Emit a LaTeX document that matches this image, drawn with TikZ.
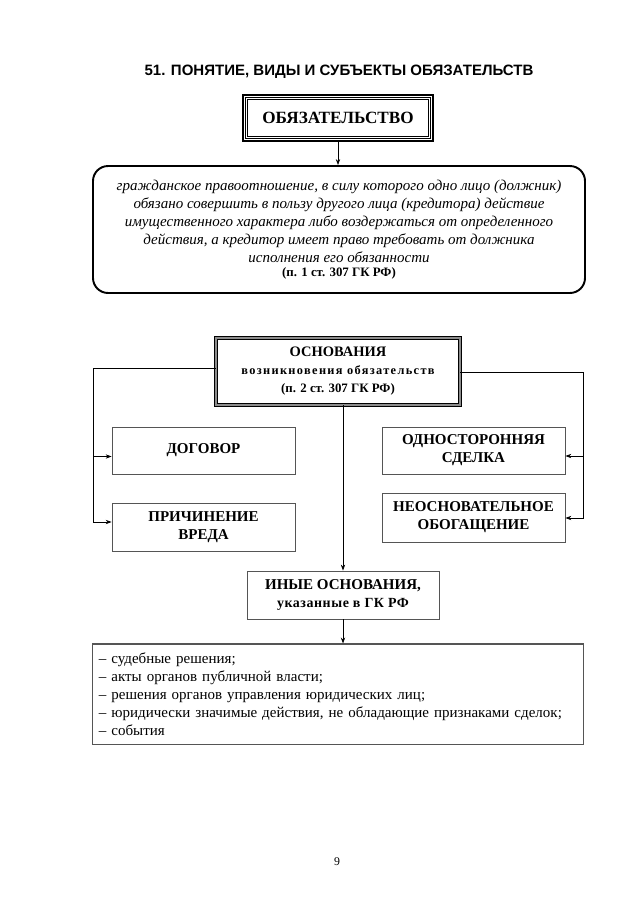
\documentclass[tikz,border=0pt]{standalone}
\usepackage{fontspec}
\setmainfont{Liberation Serif}
\newfontfamily\titlefont{Liberation Sans}
\usetikzlibrary{
    positioning,
    calc,
    arrows.meta
}
\definecolor{CinzaLinha}{HTML}{555555}
\definecolor{CinzaMoldura}{HTML}{8C8C8C}
\tikzset{
    caixa/.style={
        draw=CinzaLinha,
        line width=0.8pt,
        align=center,
        inner sep=2pt,
        font=\fontsize{14}{16.8}\selectfont\bfseries
    },
    seta/.style={
        draw=black,
        line width=0.6pt,
        -{Stealth[length=5.5pt,width=4pt]}
    },
    linha/.style={
        draw=black,
        line width=0.6pt
    }
}

\begin{document}
\begin{tikzpicture}[x=0.9325pt,y=-0.9325pt]
    \useasboundingbox (0,0) rectangle (638,903);
    \node (titulo) at (339,72) {\titlefont\bfseries\fontsize{14}{16}\selectfont
        51. ПОНЯТИЕ, ВИДЫ И СУБЪЕКТЫ ОБЯЗАТЕЛЬСТВ};
    \node[
        draw=black,
        line width=1.6pt,
        minimum width=177.2pt,
        minimum height=42.9pt,
        inner sep=0pt,
        font=\fontsize{16}{18}\selectfont\bfseries
    ] (obrig) at (338,118) {ОБЯЗАТЕЛЬСТВО};
    \draw[line width=0.5pt]
        ($(obrig.south west)+(3.5,-3.5)$) rectangle ($(obrig.north east)+(-3.5,3.5)$);
    \draw[line width=0.5pt]
        ($(obrig.south west)+(5.5,-5.5)$) rectangle ($(obrig.north east)+(-5.5,5.5)$);
    \node[
        draw=black,
        line width=1.8pt,
        rounded corners=14pt,
        minimum width=458.8pt,
        minimum height=118.4pt,
        align=center,
        inner sep=0pt,
        font=\itshape\fontsize{14}{16.8}\selectfont
    ] (defin) at (339,229.5) {%
        гражданское правоотношение, в силу которого одно лицо (должник)\\
        обязано совершить в пользу другого лица (кредитора) действие\\
        имущественного характера либо воздержаться от определенного\\
        действия, а кредитор имеет право требовать от должника\\
        исполнения его обязанности\\[-4.2pt]
        {\upshape\bfseries\fontsize{12}{14}\selectfont (п. 1 ст. 307 ГК РФ)}};
    \draw[seta] (obrig.south) -- (obrig.south |- defin.north);

    \node[
        draw=black,
        double=CinzaMoldura,
        double distance=1.8pt,
        line width=0.6pt,
        minimum width=227.5pt,
        minimum height=62.5pt,
        align=center,
        inner sep=0pt,
        font=\bfseries\fontsize{12}{16.8}\selectfont
    ] (bases) at (338,371.5) {%
        {\fontsize{13.5}{16.8}\selectfont ОСНОВАНИЯ}\\
        {\fontsize{11.5}{16.8}\selectfont\addfontfeatures{LetterSpace=11}возникновения обязательств}\\
        (п. 2 ст. 307 ГК РФ)};

    \node[caixa, minimum width=170.6pt, minimum height=43.8pt] (contrato) at (203.5,450.5) {ДОГОВОР};
    \node[caixa, minimum width=170.6pt, minimum height=44.8pt] (dano) at (203.5,527) {ПРИЧИНЕНИЕ\\ВРЕДА};
    \node[caixa, minimum width=170.6pt, minimum height=43.8pt] (unilat) at (473.5,450.5) {ОДНОСТОРОННЯЯ\\СДЕЛКА};
    \node[caixa, minimum width=170.6pt, minimum height=45.7pt] (enriq) at (473.5,517.5) {НЕОСНОВАТЕЛЬНОЕ\\ОБОГАЩЕНИЕ};
    \node[caixa, minimum width=179pt, minimum height=44.8pt] (outras) at (343,595) {%
        ИНЫЕ ОСНОВАНИЯ,\\
        {\fontsize{13}{16.8}\selectfont\addfontfeatures{LetterSpace=4}указанные в ГК РФ}};

    \node[
        draw=CinzaLinha,
        line width=1pt,
        minimum width=457.9pt,
        minimum height=93.3pt,
        text width=446pt,
        align=left,
        inner sep=0pt,
        font=\fontsize{14}{16.8}\selectfont
    ] (lista) at (338,694) {%
        – судебные решения;\\
        – акты органов публичной власти;\\
        – решения органов управления юридических лиц;\\
        – юридически значимые действия, не обладающие признаками сделок;\\
        – события};

    \coordinate (esq) at (93,368);
    \coordinate (dir) at (583,372);
    \coordinate (esqA) at ($(contrato.west)+(0,6)$);
    \coordinate (esqB) at ($(dano.west)+(0,-5)$);
    \coordinate (dirA) at ($(unilat.east)+(0,5.5)$);
    \coordinate (dirB) at ($(enriq.east)+(0,0.5)$);
    \draw[linha] (bases.west |- esq) -- (esq) -- (esq |- esqA);
    \draw[seta] (esq |- esqA) -- (esqA);
    \draw[seta] (esq |- esqA) |- (esqB);
    \draw[linha] (bases.east |- dir) -- (dir) -- (dir |- dirA);
    \draw[seta] (dir |- dirA) -- (dirA);
    \draw[seta] (dir |- dirA) |- (dirB);
    \draw[seta] (bases.south -| outras.north) -- (outras.north);
    \draw[seta] (outras.south) -- (outras.south |- lista.north);

    \node[font=\fontsize{11}{13}\selectfont] (pagina) at (337,862) {9};
\end{tikzpicture}
\end{document}
